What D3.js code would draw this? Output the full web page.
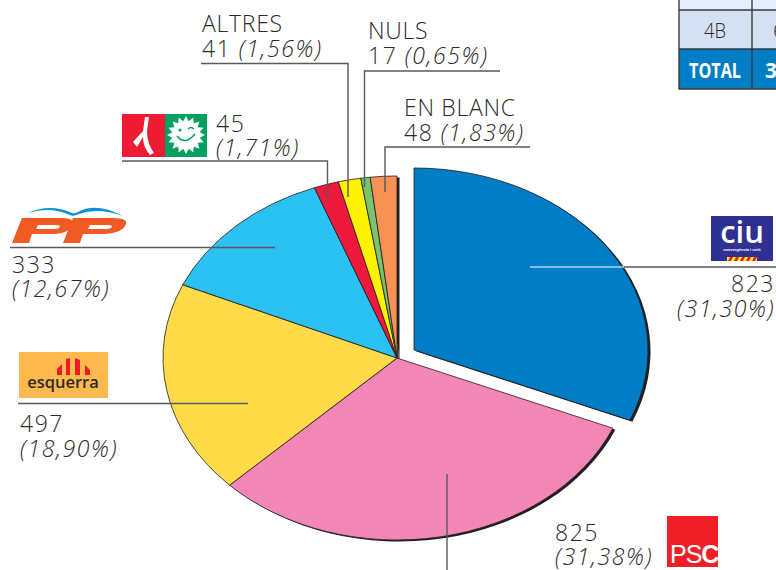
<!DOCTYPE html>
<html>
<head>
<meta charset="utf-8">
<script src="https://cdnjs.cloudflare.com/ajax/libs/d3/7.8.5/d3.min.js"></script>
<style>
  html, body { margin: 0; padding: 0; background: #fff; overflow: hidden; }
  svg { display: block; }
  text { font-family: "Open Sans", Lato, sans-serif; font-weight: 300; fill: #2b2a29; font-size: 23px; }
  .name { letter-spacing: 0.7px; }
  .num { letter-spacing: 1.5px; }
  .pct { font-style: italic; letter-spacing: 1.6px; }
</style>
</head>
<body>
<div id="chart"></div>
<script>
// values, clockwise from 12 o'clock
var parties = ["CiU", "PSC", "ERC", "PP", "ICV", "ALTRES", "NULS", "EN BLANC"];
var votes = [823, 825, 497, 333, 45, 41, 17, 48];
var percents = ["31,30%", "31,38%", "18,90%", "12,67%", "1,71%", "1,56%", "0,65%", "1,83%"];
var colors = ["#007dc5", "#f287b7", "#ffdb4a", "#2cc1f3", "#ed1a3d", "#fff200", "#7ac36f", "#f79256"];

var width = 776, height = 570;
var rx = 234, ry = 182;

var svg = d3.select("#chart").append("svg")
  .attr("width", width)
  .attr("height", height);

var pie = d3.pie().sort(null).value(d => d);
var arcs = pie(votes);
var arc = d3.arc().innerRadius(0).outerRadius(rx);

// the pie is a flattened circle, the first slice is pulled out
function sliceOrigin(i) {
  return i === 0 ? [414, 350] : [397, 358];
}

function sliceTransform(i, dx, dy) {
  var o = sliceOrigin(i);
  return "translate(" + (o[0] + dx) + "," + (o[1] + dy) + ") scale(1," + (ry / rx) + ")";
}

// shadow first
svg.append("g").selectAll("path")
  .data(arcs)
  .enter().append("path")
  .attr("d", arc)
  .attr("transform", (d, i) => sliceTransform(i, 2.5, 1.5))
  .style("fill", "#231f20");

svg.append("g").selectAll("path")
  .data(arcs)
  .enter().append("path")
  .attr("d", arc)
  .attr("transform", (d, i) => sliceTransform(i, 0, 0))
  .attr("vector-effect", "non-scaling-stroke")
  .style("fill", (d, i) => colors[i])
  .style("stroke", "#231f20")
  .style("stroke-width", 0.8);

// leader lines
var leaders = svg.append("g")
  .style("fill", "none")
  .style("stroke", "#58595b")
  .style("stroke-width", 1.4);

function leader(points, color) {
  leaders.append("path")
    .attr("d", d3.line()(points))
    .style("stroke", color || null);
}

leader([[530, 267], [624, 267]], "#a9d6f0");
leader([[624, 267], [776, 267]]);
leader([[447, 474], [447, 570]]);
leader([[18, 403.5], [248, 403.5]]);
leader([[10, 247.5], [275, 247.5]]);
leader([[122, 161], [327.5, 161], [327.5, 199]]);
leader([[201, 63.5], [348, 63.5], [348, 197]]);
leader([[500, 71], [364.5, 71], [364.5, 187]]);
leader([[530, 147], [385, 147], [385, 192]]);

// labels: top row is a name or the votes, bottom row ends in the percent
function voteLabel(x, y, i, anchor) {
  var t = svg.append("text").attr("text-anchor", anchor || "start");
  t.append("tspan").attr("class", "num").attr("x", x).attr("y", y).text(votes[i]);
  t.append("tspan").attr("class", "pct").attr("x", x).attr("y", y + 24.5).text("(" + percents[i] + ")");
}

function namedLabel(x, y, i) {
  var t = svg.append("text");
  t.append("tspan").attr("class", "name").attr("x", x).attr("y", y).text(parties[i]);
  t.append("tspan").attr("class", "num").attr("x", x).attr("y", y + 24.5).text(votes[i] + " ");
  t.append("tspan").attr("class", "pct").text("(" + percents[i] + ")");
}

voteLabel(775, 292, 0, "end");
voteLabel(555, 540.5, 1);
voteLabel(20, 432, 2);
voteLabel(12, 272.5, 3);
voteLabel(216, 131.5, 4);
namedLabel(202, 32, 5);
namedLabel(368, 39, 6);
namedLabel(404, 116, 7);

// party logos
var ciu = svg.append("g");
ciu.append("rect").attr("x", 711).attr("y", 216).attr("width", 62).attr("height", 45).style("fill", "#2e3192");
ciu.append("text").attr("x", 742).attr("y", 243).attr("text-anchor", "middle")
  .style("font-weight", 600).style("font-size", "31px").style("fill", "#fff").text("ciu");
ciu.append("text").attr("x", 742).attr("y", 250.5).attr("text-anchor", "middle")
  .style("font-family", "'Liberation Sans'").style("font-weight", 700).style("font-size", "4px").style("fill", "#fff").text("convergència i unió");
ciu.append("rect").attr("x", 727).attr("y", 257).attr("width", 30).attr("height", 4).style("fill", "#fff200");
d3.range(5).forEach(function (i) {
  ciu.append("path")
    .attr("d", "M" + (728 + i * 6) + " 261 l2 -4 h3 l-2 4 z")
    .style("fill", "#ed1c24");
});

var psc = svg.append("g");
psc.append("rect").attr("x", 667).attr("y", 516).attr("width", 51).attr("height", 51).style("fill", "#ee1f26");
var pscText = psc.append("text").attr("x", 670).attr("y", 563)
  .style("font-family", "'Liberation Sans'").style("font-size", "25px").style("font-weight", 400).style("letter-spacing", "-1px");
pscText.append("tspan").style("fill", "#fff").text("PS");
pscText.append("tspan").style("fill", "#fff").style("font-weight", 700).text("C");

var erc = svg.append("g");
erc.append("rect").attr("x", 19).attr("y", 352).attr("width", 89).attr("height", 46).style("fill", "#fdb94d");
erc.append("text").attr("x", 63).attr("y", 388).attr("text-anchor", "middle")
  .style("font-weight", 600).style("font-size", "16.5px").text("esquerra");
[
  "M57 375 v-6 l5 -5 v11 z",
  "M66 375 v-16 l4 -1 v17 z",
  "M75 375 v-17 l5 2 v15 z",
  "M85 375 v-10 l5 5 v5 z"
].forEach(function (d) {
  erc.append("path").attr("d", d).style("fill", "#ed1c24");
});

var pp = svg.append("g");
pp.append("path")
  .attr("d", "M12 243 L22 218 H62 Q76 218 72 226 Q68 234 50 234 H32 L29 243 Z M38 225 L36 229 H54 Q59 229 60 226.5 Q60 225 56 225 Z")
  .attr("fill-rule", "evenodd")
  .style("fill", "#f15a24");
pp.append("path")
  .attr("d", "M63 243 L73 218 H113 Q130 218 125 226 Q120 234 100 234 H83 L80 243 Z M90 225 L88 229 H106 Q111 229 112 226.5 Q112 225 108 225 Z")
  .attr("fill-rule", "evenodd")
  .style("fill", "#f15a24");
pp.append("path")
  .attr("d", "M28 213 Q50 203 72 213 Q74 214 78 212 Q96 202 123 216 Q98 207 79 214 Q73 217 70 215 Q50 206 28 213 Z")
  .style("fill", "#0f8fd2");

var icv = svg.append("g");
icv.append("rect").attr("x", 122).attr("y", 114).attr("width", 43).attr("height", 43).style("fill", "#ed1c34");
icv.append("rect").attr("x", 165).attr("y", 114).attr("width", 42).attr("height", 43).style("fill", "#00a160");
icv.append("path")
  .attr("d", "M145 117 L149 117 L147 131 Q147 143 154 153 L150 155 Q143 147 143 137 L137 147 L133 142 L143 131 Z")
  .style("fill", "#fff");

// sun with rays
var sunPoints = d3.range(32).map(function (i) {
  var a = i / 32 * 2 * Math.PI;
  var r = i % 2 ? 14 : 19;
  return [186 + r * Math.sin(a), 135 + r * Math.cos(a)];
});
icv.append("path").attr("d", d3.line()(sunPoints) + "Z").style("fill", "#fff");
icv.append("path")
  .attr("d", "M177 136 Q185 146 195 134")
  .style("fill", "none").style("stroke", "#00a160").style("stroke-width", 1.6);
icv.append("circle").attr("cx", 180).attr("cy", 130).attr("r", 1.6).style("fill", "#00a160");
icv.append("path").attr("d", "M188 129 Q191 126 194 129").style("fill", "none").style("stroke", "#00a160").style("stroke-width", 1.5);

// piece of the table in the corner
var table = svg.append("g");
[["#e6eef9", 0, 10], ["#d3e1f2", 10, 39], ["#007dc5", 49, 40]].forEach(function (r) {
  table.append("rect").attr("x", 679).attr("y", r[1]).attr("width", 97).attr("height", r[2]).style("fill", r[0]);
});
table.append("path")
  .attr("d", "M679 0 V89 H776 M752 0 V89 M679 10 H776 M679 49 H776")
  .style("fill", "none").style("stroke", "#3a3a3c").style("stroke-width", 1.4);

function cell(x, y, s, bold, length) {
  var t = table.append("text").attr("x", x).attr("y", y)
    .style("font-size", "21px")
    .style("font-weight", bold ? 700 : 300)
    .style("fill", bold ? "#fff" : "#2b2a29")
    .text(s);
  if (length) t.attr("textLength", length).attr("lengthAdjust", "spacingAndGlyphs");
}

cell(704, 38, "4B", false, 22);
cell(773, 38, "6", false);
cell(689, 78, "TOTAL", true, 52);
cell(765, 78, "3", true);
</script>
</body>
</html>
